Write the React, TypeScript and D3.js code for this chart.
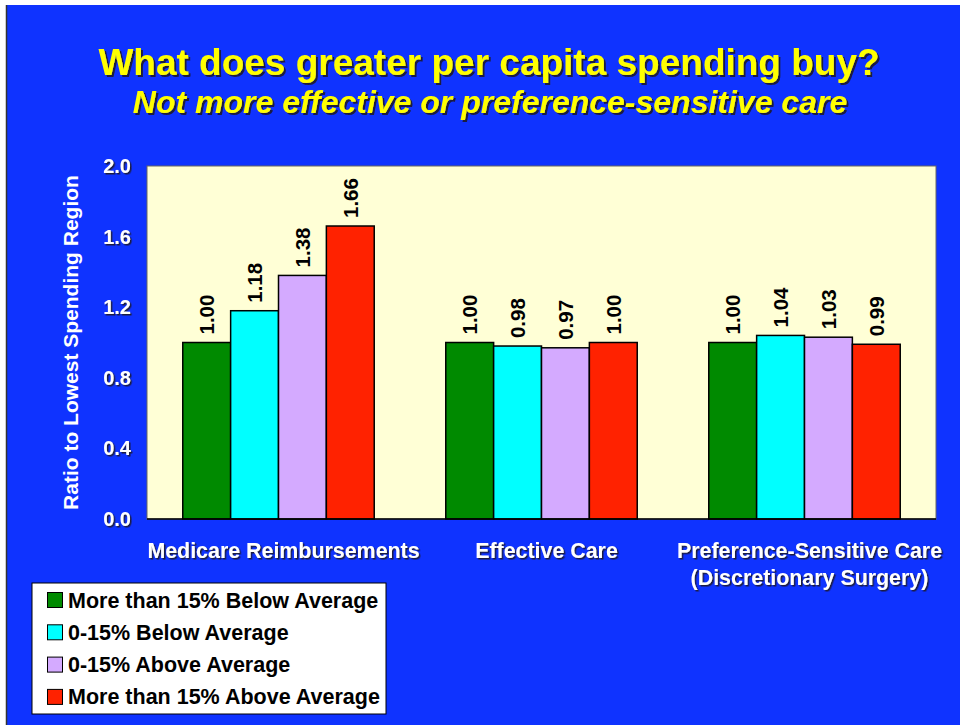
import React from "react";
import * as d3 from "d3";

const categories = ["Medicare Reimbursements", "Effective Care", "Preference-Sensitive Care|(Discretionary Surgery)"];
const seriesNames = [
  "More than 15% Below Average",
  "0-15% Below Average",
  "0-15% Above Average",
  "More than 15% Above Average",
];
const seriesColors = ["#008a00", "#00ffff", "#d4aaff", "#ff2200"];
const values: number[][] = [
  [1.0, 1.18, 1.38, 1.66],
  [1.0, 0.98, 0.97, 1.0],
  [1.0, 1.04, 1.03, 0.99],
];
const yTicks = [0, 0.4, 0.8, 1.2, 1.6, 2.0];

const W = 960, H = 725;
const plot = { left: 147, right: 936, top: 166, bottom: 519 };
const FONT = "'Liberation Sans', Arial, Helvetica, sans-serif";

function Shadowed({ x, y, text, size, fill, italic, anchor = "middle", filter = "url(#sh2)" }: any) {
  return (
    <text x={x} y={y} fill={fill} filter={filter} fontFamily={FONT} fontWeight="bold"
      fontStyle={italic ? "italic" : "normal"} fontSize={size} textAnchor={anchor}>{text}</text>
  );
}

export default function App() {
  const x0 = d3.scaleBand<number>()
    .domain(d3.range(categories.length))
    .range([plot.left, plot.right])
    .paddingInner(0.272)
    .paddingOuter(0.136);
  const x1 = d3.scaleBand<number>().domain(d3.range(seriesNames.length)).range([0, x0.bandwidth()]);
  const y = d3.scaleLinear().domain([0, 2]).range([plot.bottom, plot.top]);
  const fmt = d3.format(".2f");

  return (
    <svg width={W} height={H} style={{ position: "absolute", left: 0, top: 0 }}>
      <defs>
        <filter id="sh2" x="-5%" y="-20%" width="110%" height="150%">
          <feDropShadow dx={2} dy={2} stdDeviation={0.3} floodColor="#1a1a40" floodOpacity={1} />
        </filter>
        <filter id="sh1" x="-5%" y="-20%" width="110%" height="150%">
          <feDropShadow dx={1.5} dy={1.5} stdDeviation={0.3} floodColor="#1a1a40" floodOpacity={1} />
        </filter>
      </defs>
      <rect x={0} y={0} width={W} height={H} fill="#ffffff" />
      <rect x={6} y={5} width={W - 6} height={H - 5} fill="#0f33ff" />
      <line x1={6.5} y1={5} x2={6.5} y2={H} stroke="#333" strokeWidth={1.5} />

      <Shadowed x={489} y={75} text="What does greater per capita spending buy?" size={37} fill="#ffff00" />
      <Shadowed x={490} y={113} text="Not more effective or preference-sensitive care" size={32} fill="#ffff00" italic />

      <rect x={plot.left} y={plot.top} width={plot.right - plot.left} height={plot.bottom - plot.top}
        fill="#ffffd6" stroke="#666" strokeWidth={1} />

      {yTicks.map((t) => (
        <Shadowed key={t} x={131} y={y(t) + 7} text={d3.format(".1f")(t)} size={20} fill="#ffffff" anchor="end" filter="url(#sh1)" />
      ))}

      <text transform={`translate(78,${(plot.top + plot.bottom) / 2}) rotate(-90)`} textAnchor="middle"
        fontFamily={FONT} fontWeight="bold" fontSize={21} fill="#ffffff">Ratio to Lowest Spending Region</text>

      {categories.map((c, ci) => (
        <g key={ci}>
          {values[ci].map((v, si) => {
            const bx = (x0(ci) as number) + (x1(si) as number);
            const bw = x1.bandwidth();
            return (
              <g key={si}>
                <rect x={bx} y={y(v)} width={bw} height={plot.bottom - y(v)} fill={seriesColors[si]} stroke="#000" strokeWidth={1.5} />
                <text transform={`translate(${bx + bw / 2},${y(v) - 8}) rotate(-90)`} dy="0.36em"
                  fontFamily={FONT} fontWeight="bold" fontSize={20.5} fill="#000">{fmt(v)}</text>
              </g>
            );
          })}
          {c.split("|").map((line, li) => (
            <Shadowed key={li} x={(x0(ci) as number) + x0.bandwidth() / 2 + 5} y={558 + li * 27} text={line}
              size={21.4} fill="#ffffff" filter="url(#sh1)" />
          ))}
        </g>
      ))}
      <line x1={plot.left} x2={plot.right} y1={plot.bottom} y2={plot.bottom} stroke="#000" strokeWidth={1.5} />

      <rect x={32} y={583} width={354} height={131} fill="#ffffff" stroke="#000" strokeWidth={1} />
      {seriesNames.map((s, i) => (
        <g key={s}>
          <rect x={47.5} y={592.5 + i * 32.3} width={15} height={15} fill={seriesColors[i]} stroke="#000" strokeWidth={1} />
          <text x={68} y={607.5 + i * 32.3} fontFamily={FONT} fontWeight="bold" fontSize={21.5} fill="#000">{s}</text>
        </g>
      ))}
    </svg>
  );
}
